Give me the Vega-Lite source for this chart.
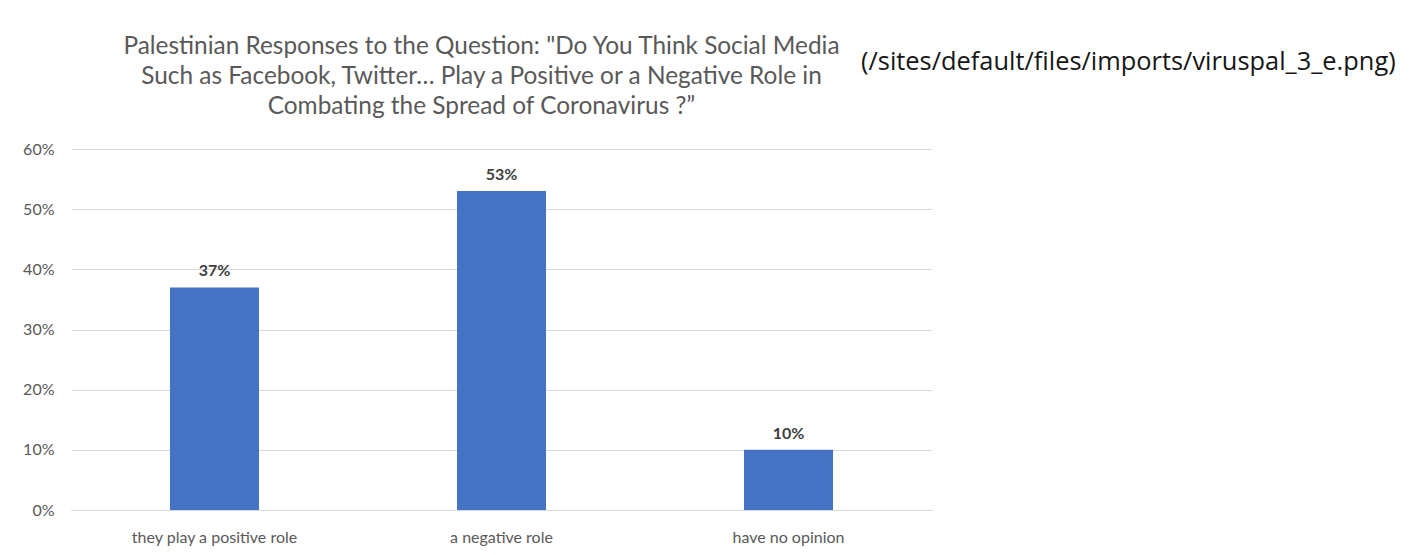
{
  "$schema": "https://vega.github.io/schema/vega-lite/v6.json",
  "background": "white",
  "padding": {"left": 22, "top": 33, "right": 10, "bottom": 10},
  "config": {"view": {"stroke": null}, "font": "Lato"},
  "spacing": 0,
  "bounds": "flush",
  "hconcat": [
    {
      "width": 861,
      "height": 361,
      "title": {
        "text": ["Palestinian Responses to the Question: \"Do You Think Social Media", "Such as Facebook, Twitter… Play a Positive or a Negative Role in", "Combating the Spread of Coronavirus ?”"],
        "fontSize": 24.4,
        "font": "Lato",
        "fontWeight": "normal",
        "color": "#595959",
        "lineHeight": 30,
        "dx": -20,
        "offset": 22,
        "anchor": "middle"
      },
      "data": {"values": [
        {"response": "they play a positive role", "share": 0.37},
        {"response": "a negative role", "share": 0.53},
        {"response": "have no opinion", "share": 0.10}
      ]},
      "encoding": {
        "x": {
          "field": "response", "type": "nominal", "sort": null,
          "scale": {"paddingInner": 0, "paddingOuter": 0},
          "axis": {"title": null, "labelAngle": 0, "domain": true, "domainColor": "#d9d9d9", "ticks": false, "labelColor": "#595959", "labelFontSize": 16, "labelPadding": 19, "grid": false}
        },
        "y": {
          "field": "share", "type": "quantitative",
          "scale": {"domain": [0, 0.6]},
          "axis": {"title": null, "format": ".0%", "values": [0, 0.1, 0.2, 0.3, 0.4, 0.5, 0.6], "grid": true, "gridColor": "#d9d9d9", "domain": false, "ticks": false, "labelColor": "#595959", "labelFontSize": 16, "labelPadding": 17}
        }
      },
      "layer": [
        {"mark": {"type": "bar", "size": 89, "color": "#4472C4"}},
        {"mark": {"type": "text", "baseline": "bottom", "dy": -8, "fontWeight": "bold", "fontSize": 16, "color": "#404040"},
         "encoding": {"text": {"field": "share", "format": ".0%"}}}
      ]
    },
    {
      "width": 10,
      "height": 361,
      "title": {"text": "(/sites/default/files/imports/viruspal_3_e.png)", "anchor": "start", "font": "Open Sans", "fontSize": 25.4, "fontWeight": "normal", "color": "#161616", "offset": 74, "dx": -71},
      "data": {"values": [{"t": ""}]},
      "mark": {"type": "text"},
      "encoding": {"text": {"field": "t"}}
    }
  ]
}
